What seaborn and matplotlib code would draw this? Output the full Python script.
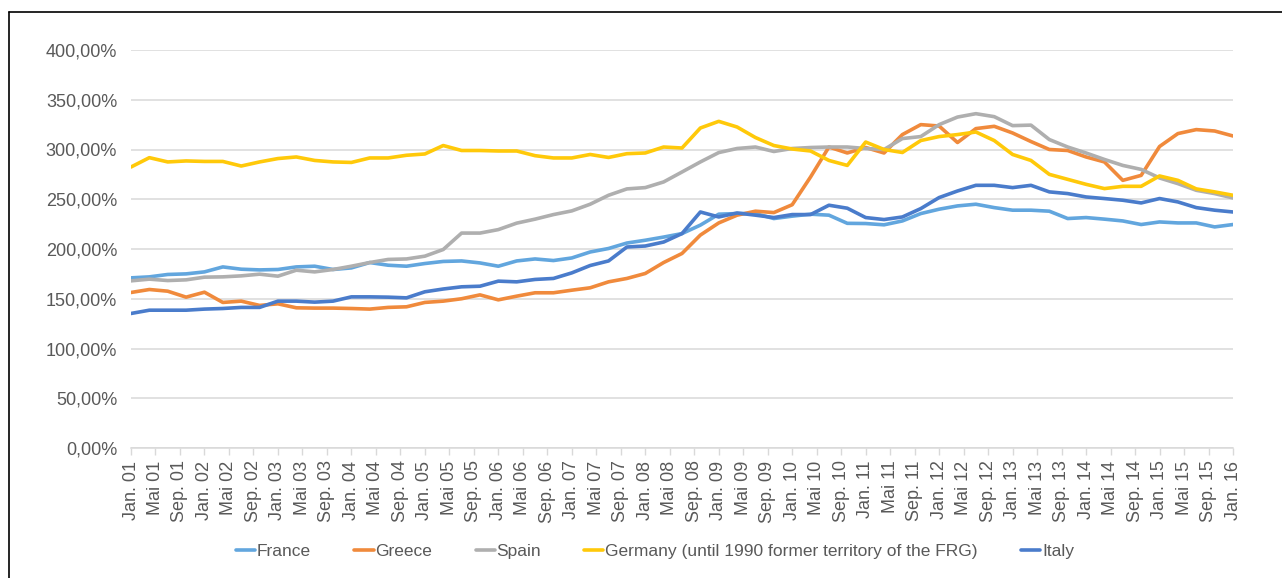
import numpy as np
import pandas as pd
import matplotlib
matplotlib.use("Agg")
import matplotlib.pyplot as plt
from matplotlib.lines import Line2D
from matplotlib.ticker import FuncFormatter
import seaborn as sns

# ── Data (quarterly, Jan 2001 .. Jan 2016), values in % ─────────────────────
months = list(range(0, 181, 3))

france = [171, 172, 174.4, 175, 177, 182, 179.7, 179, 179.4, 182, 182.7, 179.4,
          181, 186.4, 183.7, 182.7, 185.4, 187.5, 188, 186, 182.7, 188, 190, 188.4,
          191, 197, 200.5, 206, 208.8, 212, 215.5, 224, 235, 235.6, 235.6, 230.6,
          233, 235, 234, 225.8, 225.6, 224.3, 228.2, 235.6, 240, 243.3, 245, 241.6,
          239, 239, 238, 230.6, 231.6, 230, 228.2, 224.6, 227.2, 226.2, 226.2, 222.2,
          224.6]
greece = [156.3, 159.3, 157.6, 151.6, 156.6, 146.3, 147.6, 143.3, 144.9, 140.9, 140.6, 140.6,
          140.2, 139.6, 141.3, 141.9, 146.3, 147.6, 150, 153.9, 148.9, 152.6, 156, 156,
          158.6, 161, 167, 170.4, 175.4, 186.4, 195.5, 214, 226.2, 234, 238, 236.6,
          244.5, 272.4, 302.5, 296.5, 302, 296.5, 315, 325, 323.6, 307, 321, 323.3,
          316.6, 308, 300, 299, 292.5, 287.5, 269, 274, 303, 316, 320, 318.6,
          313.6]
spain = [168, 169.7, 168.3, 169, 171.7, 172, 173, 174.7, 172.7, 178.7, 177, 179.4,
         182.7, 186.4, 189.5, 190, 192.8, 199.5, 216, 216, 219.5, 226, 230, 234.6,
         238.3, 245, 254, 260.4, 261.7, 267.4, 277.4, 287.5, 296.9, 301, 302.5, 298,
         301, 302, 302.5, 302.5, 301, 300, 311, 313, 325, 332.6, 336, 333,
         324, 324.5, 310, 302.5, 296.5, 290, 284, 280, 271.4, 265.7, 259, 255.7,
         251.3]
germany = [282.4, 291.8, 287.5, 288.5, 288, 288, 283.4, 287.5, 290.9, 292.5, 289, 287.5,
           287, 291.5, 291.5, 294.2, 295.5, 304, 299, 299, 298.5, 298.5, 293.8, 291.5,
           291.5, 295, 292, 295.8, 296.5, 302.5, 301.5, 321.6, 328.3, 322.6, 312, 304,
           300.5, 298.5, 289, 284, 307.5, 300, 297, 309, 313, 315, 317.6, 309,
           295, 289, 275, 270, 265, 260.7, 263, 263, 273.4, 269, 260.4, 257.4,
           254]
italy = [135.2, 138.5, 138.5, 138.5, 139.6, 140.2, 141.3, 141.3, 147.6, 147.6, 146.6, 147.6,
         151.9, 151.9, 151.6, 150.9, 157, 159.8, 162, 162.6, 167.7, 167, 169.4, 170.4,
         176, 183.4, 188, 202, 203, 207, 215.5, 237.2, 232.2, 236.2, 234, 231.6,
         234.6, 234.6, 244, 241, 231.6, 229.6, 232.2, 240.6, 251.7, 258.3, 264, 264,
         261.7, 264, 257.4, 255.7, 252.3, 250.7, 249, 246.3, 250.7, 247.3, 241.6, 239,
         237.2]

countries = ["France", "Greece", "Spain",
             "Germany (until 1990 former territory of the FRG)", "Italy"]
colors = ["#62A6DE", "#F08A3C", "#AFAFAF", "#FFC90A", "#4A7CCB"]

tick_months = list(range(0, 181, 4))
tick_labels = [f"{m} {y:02d}" for y in range(1, 16) for m in ["Jan.", "Mai", "Sep."]] + ["Jan. 16"]

df = pd.DataFrame({
    "month": months * 5,
    "value": france + greece + spain + germany + italy,
    "country": [c for c in countries for _ in months],
})

# ── Style ────────────────────────────────────────────────────────────────────
sns.set_theme(style="white")
plt.rcParams["font.family"] = ["Liberation Sans", "DejaVu Sans"]
TEXT = "#595959"
GRID = "#D9D9D9"

fig = plt.figure(figsize=(12.82, 5.78), dpi=100)
ax = fig.add_axes([131 / 1282, 1 - 448 / 578, (1233 - 131) / 1282, (448 - 50) / 578])

sns.lineplot(data=df, x="month", y="value", hue="country", hue_order=countries,
             palette=colors, linewidth=2.6, legend=False, ax=ax)

ax.set_xlim(0, 180)
ax.set_ylim(0, 400)
ax.set_yticks(range(0, 401, 50))
ax.yaxis.set_major_formatter(FuncFormatter(lambda v, _: f"{v:.2f}".replace(".", ",") + "%"))
ax.set_xticks(tick_months)
ax.set_xticklabels(tick_labels, rotation=90)
ax.set_xlabel("")
ax.set_ylabel("")

ax.grid(axis="y", color=GRID, linewidth=1.1, zorder=0)
ax.set_axisbelow(True)
for s in ["top", "right", "left"]:
    ax.spines[s].set_visible(False)
ax.spines["bottom"].set_color(GRID)
ax.spines["bottom"].set_linewidth(1.1)

ax.tick_params(axis="y", length=0, pad=10, labelsize=13, labelcolor=TEXT)
ax.tick_params(axis="x", length=5, width=1, color=GRID, pad=4, labelsize=13,
               labelcolor=TEXT, bottom=True)

# legend
handles = [Line2D([0], [0], color=c, linewidth=2.6) for c in colors]
fig.legend(handles, countries, loc="center", bbox_to_anchor=(655 / 1282, 1 - 551 / 578),
           ncol=5, frameon=False, fontsize=12.5, labelcolor=TEXT,
           handlelength=1.1, handletextpad=0.1, columnspacing=2.5)

# frame lines (left and top edges)
fig.add_artist(Line2D([9 / 1282, 9 / 1282], [0, 1 - 12 / 578], transform=fig.transFigure,
                      color="black", linewidth=1.2))
fig.add_artist(Line2D([9 / 1282, 1], [1 - 12 / 578, 1 - 12 / 578], transform=fig.transFigure,
                      color="black", linewidth=1.2))

fig.savefig("out.png", dpi=100)
